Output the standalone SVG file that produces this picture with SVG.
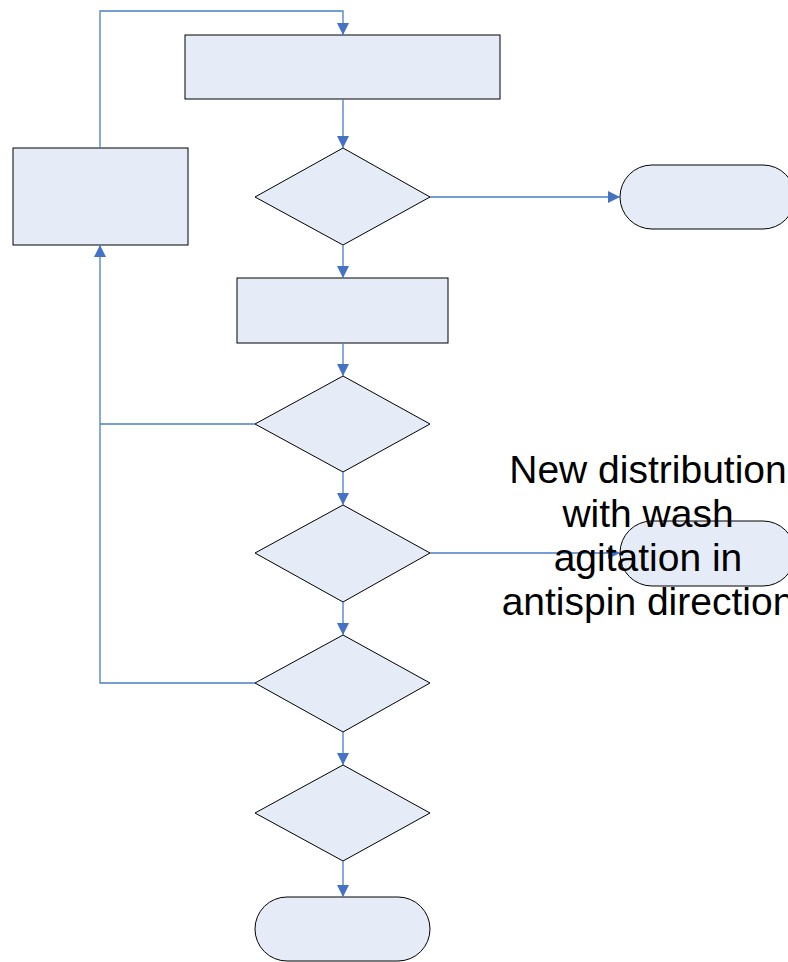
<svg xmlns="http://www.w3.org/2000/svg" width="788" height="962" viewBox="0 0 788 962">
<style>
.n{fill:#E6ECF7;stroke:#000;stroke-width:1}
.c{fill:none;stroke:#4A7DC6;stroke-width:1.3}
.t{font-family:"Liberation Sans",Arial,sans-serif;font-size:39px;fill:#000;text-anchor:middle}
</style>
<defs>
<marker id="a" markerUnits="userSpaceOnUse" markerWidth="12" markerHeight="12" viewBox="0 0 12 12" refX="12" refY="6" orient="auto">
<path d="M0,0 L12,6 L0,12 z" fill="#4472C4"/>
</marker>
</defs>
<rect width="788" height="962" fill="#fff"/>
<g id="nodes">
<g id="n_top"><rect class="n" x="185" y="35" width="315" height="64"/></g>
<g id="n_left"><rect class="n" x="13" y="148" width="175" height="97"/></g>
<g id="n_d1"><polygon class="n" points="343,148 430,197 343,245 255,197"/></g>
<g id="n_end1"><rect class="n" x="620" y="165" width="175" height="64" rx="32" ry="32"/></g>
<g id="n_rect2"><rect class="n" x="237" y="278" width="211" height="65"/></g>
<g id="n_d2"><polygon class="n" points="343,376 430,424 343,472 255,424"/></g>
<g id="n_d3"><polygon class="n" points="343,505 430,553 343,602 255,553"/></g>
<g id="n_end2"><rect class="n" x="620" y="521" width="175" height="65" rx="32" ry="32"/></g>
<g id="n_d4"><polygon class="n" points="343,635 430,683 343,732 255,683"/></g>
<g id="n_d5"><polygon class="n" points="343,765 430,813 343,861 255,813"/></g>
<g id="n_end3"><rect class="n" x="255" y="897" width="175" height="64" rx="32" ry="32"/></g>
</g>
<g id="connectors">
<polyline class="c" points="100,148 100,11 343,11 343,35" marker-end="url(#a)"/>
<line class="c" x1="343" y1="99" x2="343" y2="148" marker-end="url(#a)"/>
<line class="c" x1="430" y1="197" x2="620" y2="197" marker-end="url(#a)"/>
<line class="c" x1="343" y1="245" x2="343" y2="278" marker-end="url(#a)"/>
<line class="c" x1="343" y1="343" x2="343" y2="376" marker-end="url(#a)"/>
<line class="c" x1="343" y1="472" x2="343" y2="505" marker-end="url(#a)"/>
<line class="c" x1="430" y1="553" x2="620" y2="553" marker-end="url(#a)"/>
<line class="c" x1="343" y1="602" x2="343" y2="635" marker-end="url(#a)"/>
<line class="c" x1="343" y1="732" x2="343" y2="765" marker-end="url(#a)"/>
<line class="c" x1="343" y1="861" x2="343" y2="897" marker-end="url(#a)"/>
<line class="c" x1="255" y1="424" x2="100" y2="424"/>
<polyline class="c" points="255,683 100,683 100,245" marker-end="url(#a)"/>
</g>
<g id="label">
<text class="t" x="648" y="483">New distribution</text>
<text class="t" x="648" y="527">with wash</text>
<text class="t" x="648" y="571">agitation in</text>
<text class="t" x="648" y="615">antispin direction</text>
</g>
</svg>
